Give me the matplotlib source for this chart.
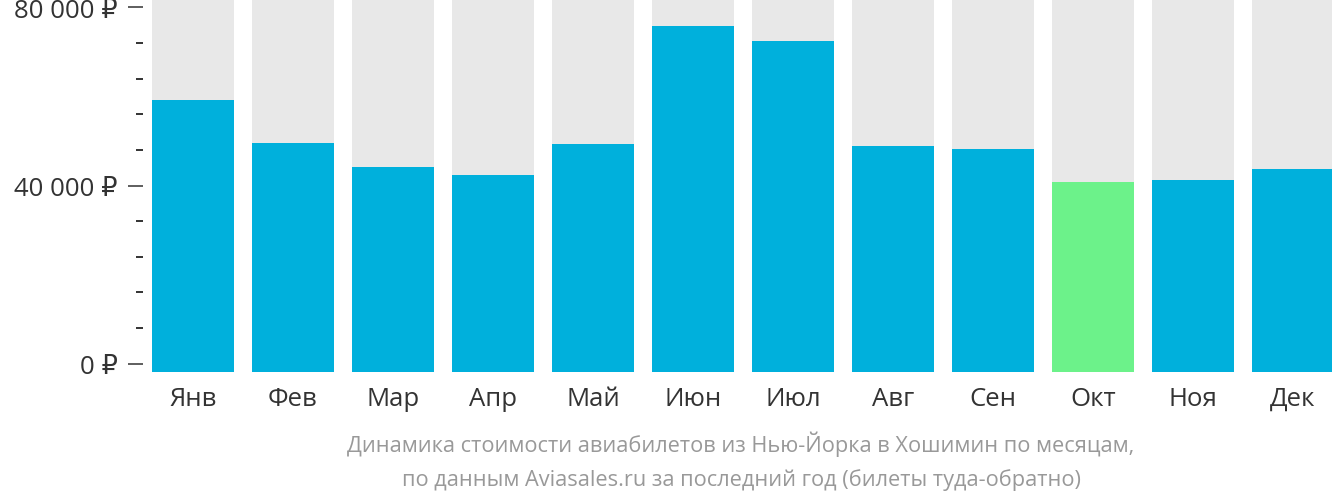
import matplotlib.pyplot as plt
from matplotlib.ticker import FixedLocator, MultipleLocator, FuncFormatter

months = ['Янв', 'Фев', 'Мар', 'Апр', 'Май', 'Июн', 'Июл', 'Авг', 'Сен', 'Окт', 'Ноя', 'Дек']
prices = [59280, 49550, 44160, 42360, 49330, 75840, 72470, 48880, 48200, 40790, 41240, 43710]
cheapest = 'Окт'
major_ticks = [0, 40000, 80000]
caption = ['Динамика стоимости авиабилетов из Нью-Йорка в Хошимин по месяцам,',
           'по данным Aviasales.ru за последний год (билеты туда-обратно)']

plt.rcParams['font.family'] = ['Open Sans', 'DejaVu Sans']

W, H = 1332, 502
fig = plt.figure(figsize=(W / 100, H / 100), dpi=100)
ax = fig.add_axes([143 / W, 1 - 373 / H, 1 - 143 / W, 373 / H])

ylo, yhi = -1900, 81900
ax.set_ylim(ylo, yhi)
ax.set_xlim(-0.5, 11.39)

x = range(len(months))
ax.bar(x, [yhi - ylo] * len(months), bottom=ylo, width=0.82, color='#e8e8e8', zorder=1)
colors = ['#6cf28a' if m == cheapest else '#00b0dc' for m in months]
ax.bar(x, [p - ylo for p in prices], bottom=ylo, width=0.82, color=colors, zorder=2)

for s in ax.spines.values():
    s.set_visible(False)

# подписи месяцев по базовой линии
ax.set_xticks(list(x))
ax.set_xticklabels(months, fontsize=18.5, color='#333333', va='baseline')
ax.tick_params(axis='x', length=0, pad=23.5)

ax.yaxis.set_major_locator(FixedLocator(major_ticks))
ax.yaxis.set_minor_locator(MultipleLocator(8000))
ax.yaxis.set_major_formatter(FuncFormatter(lambda v, p: f'{int(v):,} ₽'.replace(',', ' ')))
ax.tick_params(axis='y', which='major', length=10.8, width=1.1, color='#333333',
               labelsize=18.5, labelcolor='#333333', pad=7.2)
ax.tick_params(axis='y', which='minor', length=5, width=1.4, color='#333333')

for i, line in enumerate(caption):
    fig.text(741 / W, 1 - (444 + 36 * i) / H, line, ha='center', va='center',
             fontsize=15.7, color='#999999')

fig.savefig('out.png', dpi=100)
